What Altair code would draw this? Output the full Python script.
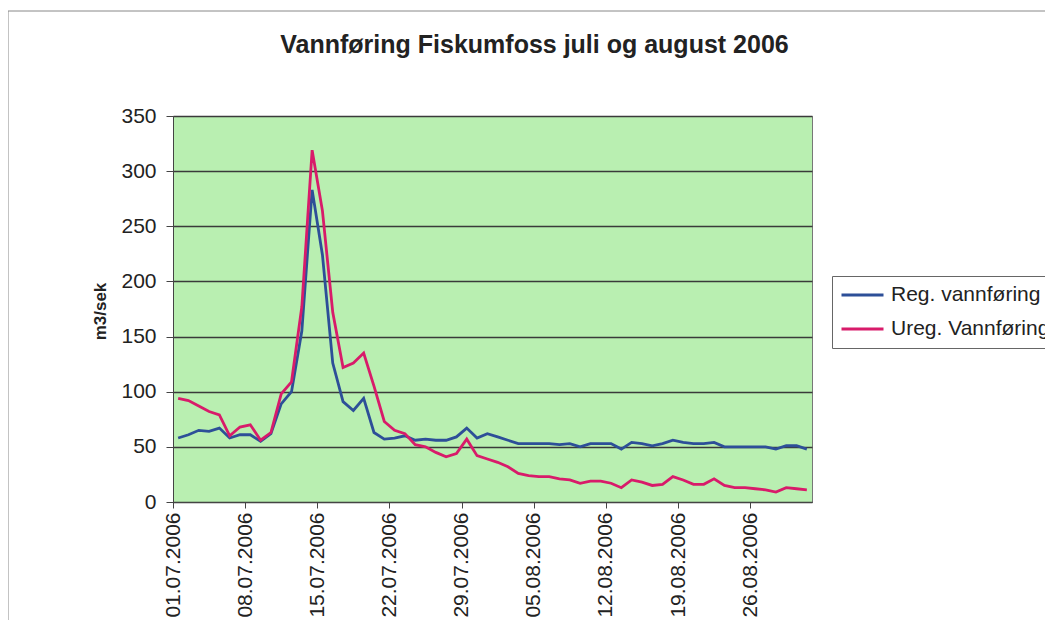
import altair as alt
import pandas as pd

# ---- data (m3/sek, one value per day 01.07-31.08.2006) ----
reg = [58, 61, 65, 64, 67, 58, 61, 61, 55, 62,
       89, 100, 155, 283, 224, 126, 91, 83, 94, 63,
       57, 58, 60, 56, 57, 56, 56, 59, 67, 58,
       62, 59, 56, 53, 53, 53, 53, 52, 53, 50,
       53, 53, 53, 48, 54, 53, 51, 53, 56, 54,
       53, 53, 54, 50, 50, 50, 50, 50, 48, 51,
       51, 48]
ureg = [94, 92, 87, 82, 79, 60, 68, 70, 56, 63,
        98, 109, 177, 319, 264, 172, 122, 126, 135, 105,
        73, 65, 62, 52, 50, 45, 41, 44, 57, 42,
        39, 36, 32, 26, 24, 23, 23, 21, 20, 17,
        19, 19, 17, 13, 20, 18, 15, 16, 23, 20,
        16, 16, 21, 15, 13, 13, 12, 11, 9, 13,
        12, 11]
series_names = ["Reg. vannføring", "Ureg. Vannføring"]
series_colors = ["#2d4f98", "#d81b6a"]
tick_days = [1, 8, 15, 22, 29]          # July
tick_days_aug = [5, 12, 19, 26]         # August
y_ticks = [0, 50, 100, 150, 200, 250, 300, 350]

dates = pd.date_range("2006-07-01 12:00", periods=len(reg), freq="D")
date_str = list(dates.strftime("%Y-%m-%dT%H:%M:%S"))

df = pd.DataFrame({
    "date": date_str * 2,
    "value": reg + ureg,
    "serie": [series_names[0]] * len(reg) + [series_names[1]] * len(ureg),
})

tick_values = ([alt.DateTime(year=2006, month=7, date=d) for d in tick_days] +
               [alt.DateTime(year=2006, month=8, date=d) for d in tick_days_aug])

font = "Liberation Sans"

lines = alt.Chart(df).mark_line(strokeWidth=2.8, clip=True).encode(
    x=alt.X(
        "date:T",
        scale=alt.Scale(domain=[alt.DateTime(year=2006, month=7, date=1),
                                alt.DateTime(year=2006, month=9, date=1)], nice=False),
        axis=alt.Axis(
            values=tick_values, format="%d.%m.%Y", labelAngle=-90,
            title=None, grid=False, tickSize=6, labelPadding=4,
            labelFontSize=21, labelColor="#222", labelFont=font,
            domainColor="#444", tickColor="#444", labelOverlap=False,
        ),
    ),
    y=alt.Y(
        "value:Q",
        scale=alt.Scale(domain=[0, 350], nice=False),
        axis=alt.Axis(
            values=y_ticks, title="m3/sek", titleFontSize=17, titleFont=font,
            titleFontWeight="bold", titleColor="#222", titleX=-73, titleY=195,
            titleAngle=-90, titleBaseline="middle", titleAlign="center",
            labelFontSize=21, labelFont=font, labelColor="#222",
            tickSize=7, labelPadding=10, grid=True, gridColor="#3a3a3a",
            gridWidth=1.3, domainColor="#444", tickColor="#444",
        ),
    ),
    color=alt.Color(
        "serie:N",
        scale=alt.Scale(domain=series_names, range=series_colors),
        legend=alt.Legend(
            title=None, orient="none", legendX=659, legendY=160,
            symbolType="stroke", symbolSize=1764, symbolStrokeWidth=3,
            labelFontSize=21, labelFont=font, labelColor="#222",
            labelOffset=6, rowPadding=12, padding=8, clipHeight=22,
            strokeColor="#666", fillColor="white",
        ),
    ),
)

border = alt.Chart(pd.DataFrame({"a": [0]})).mark_rect(
    fillOpacity=0, stroke="#888", strokeWidth=1
).encode(
    x=alt.value(-165), x2=alt.value(1000), y=alt.value(-105), y2=alt.value(700)
)

chart = alt.layer(border, lines).properties(
    width=639,
    height=386,
    padding={"left": 165, "top": 108, "right": 233, "bottom": 118},
    autosize=alt.AutoSizeParams(type="none"),
    background="white",
    title=alt.TitleParams(
        "Vannføring Fiskumfoss juli og august 2006",
        fontSize=25, font=font, fontWeight="bold", color="#222",
        anchor="middle", frame="group", dx=42, offset=-47,
    ),
).configure_view(
    fill="#b9efb1", stroke="#777", strokeWidth=1
)

chart.save("out.html", embed_options={"renderer": "svg", "actions": False})
